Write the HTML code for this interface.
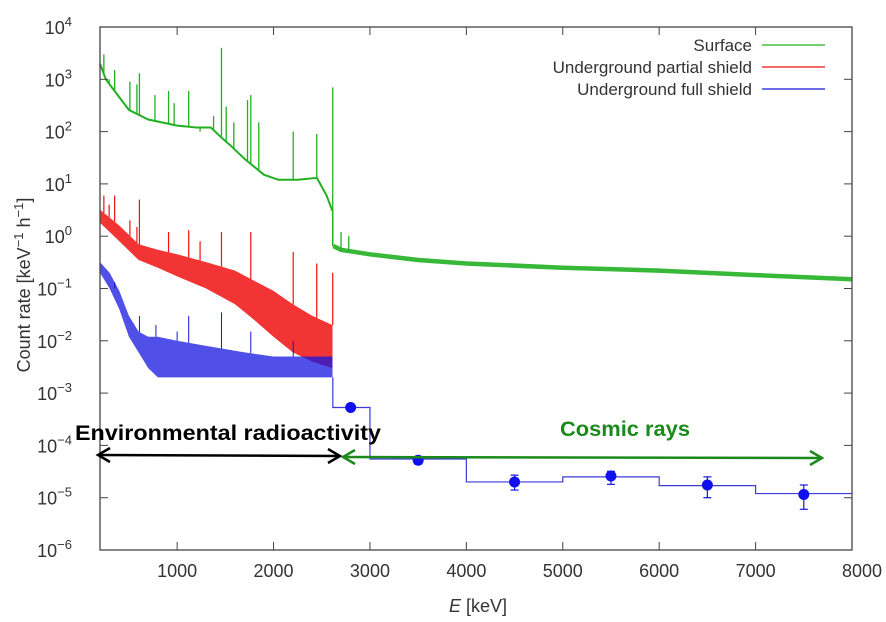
<!DOCTYPE html>
<html><head><meta charset="utf-8">
<style>
html,body{margin:0;padding:0;background:#fff;}
svg{display:block;font-family:"Liberation Sans",sans-serif;}
</style></head>
<body>
<svg id="chart" width="886" height="622" viewBox="0 0 886 622">
<g id="marks"></g>
<g id="axes"></g>
</svg>
<script>
// ---- data (energies keV, rates keV^-1 h^-1) ----
const xTicks = [1000,2000,3000,4000,5000,6000,7000,8000];
const yTickExps = [4,3,2,1,0,-1,-2,-3,-4,-5,-6];
const surfE = [200,260,350,500,700,1000,1200,1350,1450,1550,1700,1900,2050,2250,2450,2550,2612];
const surfV = [2000,1000,600,260,170,130,120,120,80,55,30,15,12,12,13,6,3];
const surfHiE = [2620,2700,3000,3500,4000,5000,6000,7000,8000];
const surfHiV = [0.65,0.55,0.45,0.35,0.3,0.25,0.22,0.18,0.15];
const surfPeakE = [240,295,352,510,583,609,770,911,969,1120,1238,1378,1460,1509,1588,1730,1764,1847,2204,2448,2614,2700,2780];
const surfPeakV = [3000,1000,1500,900,800,1300,500,600,350,600,100,200,4000,300,150,400,500,150,100,90,700,1.2,1];
const redE = [200,400,600,800,1000,1300,1600,1800,2000,2200,2400,2612];
const redLow = [1.8,0.8,0.35,0.25,0.17,0.1,0.05,0.025,0.012,0.006,0.004,0.003];
const redHigh = [3.2,1.6,0.7,0.55,0.45,0.32,0.22,0.14,0.09,0.05,0.03,0.02];
const redPeakE = [240,295,352,510,583,609,911,1120,1238,1460,1764,2204,2448,2614];
const redPeakV = [6,4,6,2,1.5,5,1.2,1.3,0.8,1.2,1.2,0.5,0.3,0.2];
const blueE = [200,300,400,500,600,700,800,1000,1300,1700,2000,2300,2612];
const blueLow = [0.2,0.1,0.04,0.012,0.006,0.003,0.002,0.002,0.002,0.002,0.002,0.002,0.002];
const blueHigh = [0.32,0.2,0.09,0.03,0.015,0.012,0.012,0.01,0.008,0.006,0.005,0.005,0.005];
const bluePeakE = [352,609,780,1000,1120,1460,1764,2204];
const bluePeakV = [0.1,0.03,0.02,0.015,0.03,0.035,0.015,0.01];
const binEdges = [2615,3000,4000,5000,6000,7000,8000];
const binVals = [5.3e-4,5.5e-5,2e-5,2.5e-5,1.7e-5,1.2e-5];
const ptE = [2800,3500,4500,5500,6500,7500];
const ptV = [5.3e-4,5.2e-5,2e-5,2.6e-5,1.75e-5,1.15e-5];
const ptLo = [5.3e-4,4.4e-5,1.4e-5,1.8e-5,1.0e-5,0.6e-5];
const ptHi = [5.3e-4,6.0e-5,2.7e-5,3.2e-5,2.5e-5,1.75e-5];

// ---- scales ----
const X0=100,X1=852,Y0=27,Y1=550;
const xs=e=>X0+(e-200)*(X1-X0)/7800;
const ys=v=>Y0+(4-Math.log10(v))*(Y1-Y0)/10;
const NS='http://www.w3.org/2000/svg';
const marks=document.getElementById('marks'), axes=document.getElementById('axes');
function mk(tag,attrs,parent){const el=document.createElementNS(NS,tag);for(const k in attrs)el.setAttribute(k,attrs[k]);(parent||marks).appendChild(el);return el;}
function pts(E,V){return E.map((e,i)=>xs(e).toFixed(1)+','+ys(V[i]).toFixed(1)).join(' ');}

// surface
let el=mk('polyline',{points:pts(surfE,surfV),fill:'none',stroke:'#22b022','stroke-width':2});


el=mk('polyline',{points:pts(surfHiE,surfHiV),fill:'none',stroke:'#22b022','stroke-width':4.5,'stroke-opacity':0.9});


el=mk('line',{x1:xs(2614),y1:ys(3),x2:xs(2614),y2:ys(0.65),stroke:'#22b022','stroke-width':1.5});


function baseAt(E,V,e){for(let i=0;i<E.length-1;i++){if(e>=E[i]&&e<=E[i+1]){const t=(e-E[i])/(E[i+1]-E[i]);return Math.pow(10,Math.log10(V[i])*(1-t)+Math.log10(V[i+1])*t);}}return V[V.length-1];}
surfPeakE.forEach((e,i)=>{const b=e<2615?baseAt(surfE,surfV,e):baseAt(surfHiE,surfHiV,e);
 const p=mk('line',{x1:xs(e),y1:ys(b),x2:xs(e),y2:ys(surfPeakV[i]),stroke:'#22b022','stroke-width':1.3});
 
 });

// red band
el=mk('polygon',{points:pts(redE,redHigh)+' '+pts(redE.slice().reverse(),redLow.slice().reverse()),fill:'#f01010','fill-opacity':0.85});


redPeakE.forEach((e,i)=>{const b=baseAt(redE,redHigh,e);
 const p=mk('line',{x1:xs(e),y1:ys(b),x2:xs(e),y2:ys(redPeakV[i]),stroke:'#f01010','stroke-width':1.2});
 
 });

// blue band
el=mk('polygon',{points:pts(blueE,blueHigh)+' '+pts(blueE.slice().reverse(),blueLow.slice().reverse()),fill:'#1515e0','fill-opacity':0.75});


bluePeakE.forEach((e,i)=>{const b=baseAt(blueE,blueHigh,e);
 const p=mk('line',{x1:xs(e),y1:ys(b),x2:xs(e),y2:ys(bluePeakV[i]),stroke:'#1515e0','stroke-width':1});
 
 });
// step histogram
let d='M'+xs(binEdges[0])+','+ys(blueLow[blueLow.length-1]);
binVals.forEach((v,i)=>{d+=' L'+xs(binEdges[i])+','+ys(v)+' L'+xs(binEdges[i+1])+','+ys(v);});
el=mk('path',{d:d,fill:'none',stroke:'#3a3ad8','stroke-width':1.2});


ptE.forEach((e,i)=>{
 const g=mk('g',{});
 
 
 if(ptHi[i]>ptLo[i]){
  mk('line',{x1:xs(e),y1:ys(ptHi[i]),x2:xs(e),y2:ys(ptLo[i]),stroke:'#1515e0','stroke-width':1.2},g);
  mk('line',{x1:xs(e)-4,y1:ys(ptHi[i]),x2:xs(e)+4,y2:ys(ptHi[i]),stroke:'#1515e0','stroke-width':1.2},g);
  mk('line',{x1:xs(e)-4,y1:ys(ptLo[i]),x2:xs(e)+4,y2:ys(ptLo[i]),stroke:'#1515e0','stroke-width':1.2},g);
 }
 mk('circle',{cx:xs(e),cy:ys(ptV[i]),r:5.5,fill:'#1010ee'},g);
});

// axes
el=mk('rect',{x:X0,y:Y0,width:X1-X0,height:Y1-Y0,fill:'none',stroke:'#444','stroke-width':1.3},axes);


xTicks.forEach(t=>{
 mk('line',{x1:xs(t),y1:Y1,x2:xs(t),y2:Y1-8,stroke:'#444'},axes);
 mk('line',{x1:xs(t),y1:Y0,x2:xs(t),y2:Y0+8,stroke:'#444'},axes);
 const tx=mk('text',{x:xs(t),y:Y1+27,'text-anchor':t===8000?'end':'middle','font-size':18,fill:'#333'},axes);
 if(t===8000)tx.setAttribute('x',X1+30);
 tx.textContent=t;
 
 
});
yTickExps.forEach(p=>{
 const y=ys(Math.pow(10,p));
 mk('line',{x1:X0,y1:y,x2:X0+8,y2:y,stroke:'#444'},axes);
 mk('line',{x1:X1,y1:y,x2:X1-8,y2:y,stroke:'#444'},axes);
 const tx=mk('text',{x:72,y:y+7,'text-anchor':'end','font-size':18,fill:'#333'},axes);
 tx.innerHTML='10<tspan dy="-8" font-size="13">'+(p<0?'\u2212'+(-p):p)+'</tspan>';
 
 
});
</script>
<div style="position:absolute;left:0;top:0;width:886px;height:622px;pointer-events:none">
<svg width="886" height="622" style="position:absolute;left:0;top:0">
 <text transform="translate(30,285) rotate(-90)" text-anchor="middle" font-size="18" fill="#333" font-family="Liberation Sans,sans-serif">Count rate [keV<tspan dy="-7" font-size="13">−1</tspan><tspan dy="7"> h</tspan><tspan dy="-7" font-size="13">−1</tspan><tspan dy="7">]</tspan></text>
 <text x="478" y="612" text-anchor="middle" font-size="18" fill="#333" font-family="Liberation Sans,sans-serif"><tspan font-style="italic">E</tspan> [keV]</text>
 <g font-family="Liberation Sans,sans-serif" font-size="17" fill="#333">
  <text x="752" y="51" text-anchor="end">Surface</text>
  <line x1="762" y1="45" x2="825" y2="45" stroke="#22b022" stroke-width="1.3"/>
  <text x="752" y="73" text-anchor="end">Underground partial shield</text>
  <line x1="762" y1="67" x2="825" y2="67" stroke="#f01010" stroke-width="1.3"/>
  <text x="752" y="95" text-anchor="end">Underground full shield</text>
  <line x1="762" y1="89" x2="825" y2="89" stroke="#1515e0" stroke-width="1.3"/>
 </g>
 <text x="75" y="440" font-size="21" font-weight="bold" fill="#000" font-family="Liberation Sans,sans-serif" textLength="306" lengthAdjust="spacingAndGlyphs">Environmental radioactivity</text>
 <g stroke="#000" stroke-width="2.5" fill="none">
  <line x1="98" y1="455" x2="340" y2="456"/>
  <polyline points="110,448 98,455 110,462"/>
  <polyline points="328,449 340,456 328,463"/>
 </g>
 <text x="560" y="436" font-size="21" font-weight="bold" fill="#1a8a1a" font-family="Liberation Sans,sans-serif" textLength="130" lengthAdjust="spacingAndGlyphs">Cosmic rays</text>
 <g stroke="#1a8a1a" stroke-width="2.5" fill="none">
  <line x1="343" y1="457" x2="822" y2="458"/>
  <polyline points="355,450 343,457 355,464"/>
  <polyline points="810,451 822,458 810,465"/>
 </g>
</svg>
</div>
</body></html>
